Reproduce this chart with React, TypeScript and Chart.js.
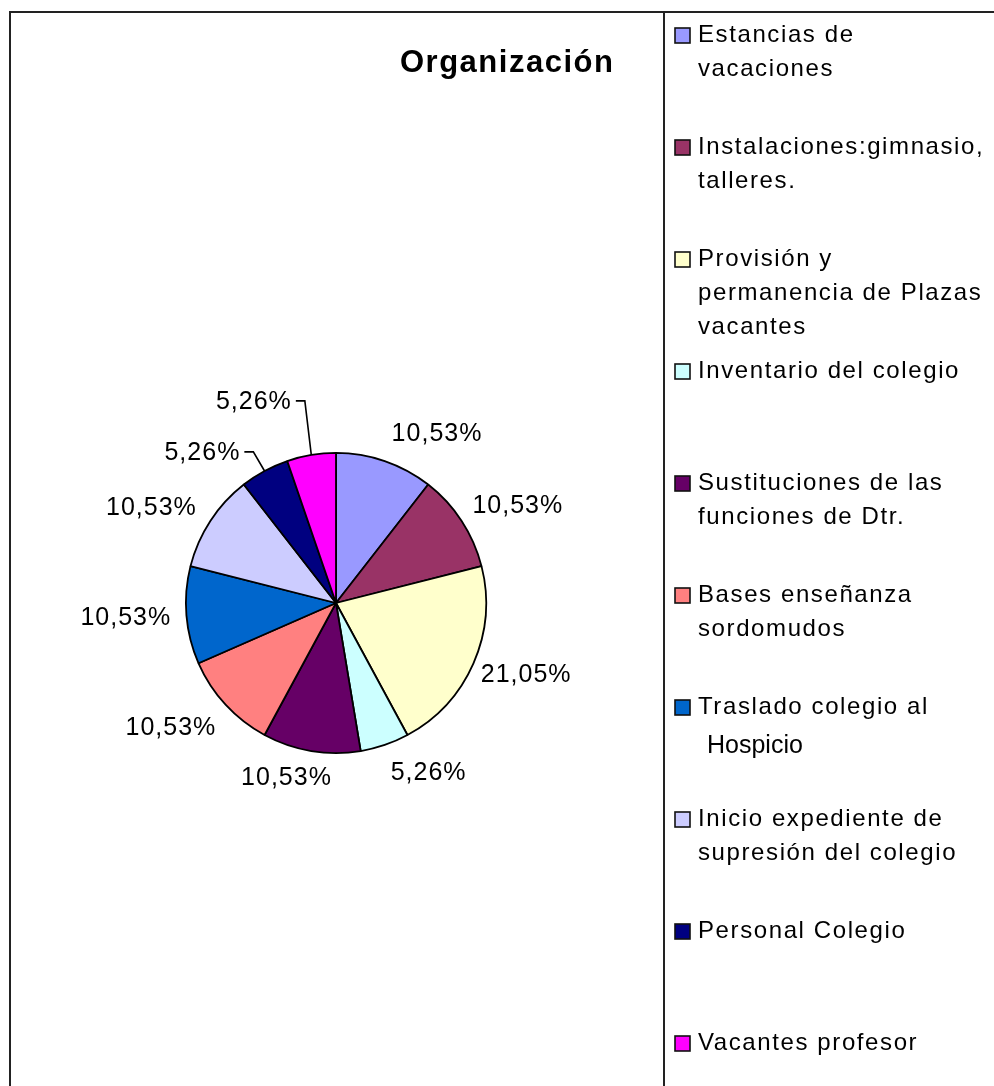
import React, { useEffect, useRef } from "react";
import { Chart, registerables } from "chart.js";

Chart.register(...registerables);

const chartTitle = "Organización";
const categories: string[][] = [
  ["Estancias de", "vacaciones"],
  ["Instalaciones:gimnasio,", "talleres."],
  ["Provisión y", "permanencia de Plazas", "vacantes"],
  ["Inventario del colegio"],
  ["Sustituciones de las", "funciones de Dtr."],
  ["Bases enseñanza", "sordomudos"],
  ["Traslado colegio al", "Hospicio"],
  ["Inicio expediente de", "supresión del colegio"],
  ["Personal Colegio"],
  ["Vacantes profesor"],
];
const counts: number[] = [2, 2, 4, 1, 2, 2, 2, 2, 1, 1];
const colors: string[] = [
  "#9999FF", "#993366", "#FFFFCC", "#CCFFFF", "#660066",
  "#FF8080", "#0066CC", "#CCCCFF", "#000080", "#FF00FF",
];

// label placement relative to pie centre, in units of radius
const labelOffsets: [number, number][] = [
  [0.673, -1.127], [1.211, -0.647], [1.267, 0.48], [0.617, 1.133], [-0.33, 1.167],
  [-1.1, 0.833], [-1.4, 0.1], [-1.23, -0.633], [-0.89, -1.0], [-0.547, -1.34],
];
const leaderLabels: boolean[] = [false, false, false, false, false, false, false, false, true, true];
const plainLines = new Set(["Hospicio"]);

const FONT = "'Liberation Sans', Arial, sans-serif";

const decorPlugin = {
  id: "decor",
  afterDraw(chart: any) {
    const ctx: CanvasRenderingContext2D = chart.ctx;
    const meta = chart.getDatasetMeta(0);
    const total = counts.reduce((a, b) => a + b, 0);
    ctx.save();
    // frame
    ctx.strokeStyle = "#222";
    ctx.lineWidth = 2;
    ctx.beginPath();
    ctx.moveTo(10, 1086);
    ctx.lineTo(10, 12);
    ctx.lineTo(994, 12);
    ctx.moveTo(664, 12);
    ctx.lineTo(664, 1086);
    ctx.stroke();

    // title
    ctx.fillStyle = "#000";
    ctx.font = `bold 31px ${FONT}`;
    (ctx as any).letterSpacing = "1.5px";
    ctx.textAlign = "left";
    ctx.textBaseline = "middle";
    ctx.fillText(chartTitle, 400, 63);

    // data labels
    ctx.font = `25px ${FONT}`;
    (ctx as any).letterSpacing = "1px";
    meta.data.forEach((arc: any, i: number) => {
      const { x, y, outerRadius, startAngle, endAngle } = arc.getProps(
        ["x", "y", "outerRadius", "startAngle", "endAngle"], true);
      const pct = ((counts[i] / total) * 100).toFixed(2).replace(".", ",") + "%";
      const cx = x + labelOffsets[i][0] * outerRadius;
      const cy = y + labelOffsets[i][1] * outerRadius;
      const w = ctx.measureText(pct).width;
      ctx.fillStyle = "#000";
      ctx.textAlign = "left";
      ctx.fillText(pct, cx - w / 2, cy);
      if (leaderLabels[i]) {
        const mid = (startAngle + endAngle) / 2;
        const ex = x + Math.cos(mid) * outerRadius;
        const ey = y + Math.sin(mid) * outerRadius;
        const right = cx + w / 2;
        ctx.strokeStyle = "#000";
        ctx.lineWidth = 1.6;
        ctx.beginPath();
        ctx.moveTo(right + 4, cy - 1);
        ctx.lineTo(right + 13, cy - 1);
        ctx.lineTo(ex, ey);
        ctx.stroke();
      }
    });

    // legend
    const step = 112;
    categories.forEach((lines, i) => {
      const y0 = 35 + i * step;
      ctx.fillStyle = colors[i];
      ctx.fillRect(675, y0 - 7, 15, 15);
      ctx.strokeStyle = "#111";
      ctx.lineWidth = 1.6;
      ctx.strokeRect(675, y0 - 7, 15, 15);
      ctx.fillStyle = "#000";
      ctx.textAlign = "left";
      lines.forEach((ln, j) => {
        if (plainLines.has(ln)) {
          ctx.font = `25px ${FONT}`;
          (ctx as any).letterSpacing = "0px";
          ctx.fillText(ln, 707, y0 + j * 34 + 5);
        } else {
          ctx.font = `24px ${FONT}`;
          (ctx as any).letterSpacing = "1.6px";
          ctx.fillText(ln, 698, y0 + j * 34);
        }
      });
    });
    ctx.restore();
  },
};

export default function App() {
  const ref = useRef<HTMLCanvasElement | null>(null);
  useEffect(() => {
    document.body.style.margin = "0";
    const chart = new Chart(ref.current!, {
      type: "pie",
      data: {
        labels: categories.map((l) => l.join(" ")),
        datasets: [
          {
            data: counts,
            backgroundColor: colors,
            borderColor: "#000",
            borderWidth: 1.8,
          },
        ],
      },
      options: {
        animation: false,
        responsive: true,
        maintainAspectRatio: false,
        layout: { padding: { left: 185, right: 507, top: 452, bottom: 332 } },
        plugins: {
          legend: { display: false },
          tooltip: { enabled: false },
          title: { display: false },
        },
      },
      plugins: [decorPlugin],
    });
    return () => chart.destroy();
  }, []);
  return (
    <div style={{ width: 994, height: 1086, position: "relative", background: "#fff" }}>
      <canvas ref={ref} />
    </div>
  );
}
